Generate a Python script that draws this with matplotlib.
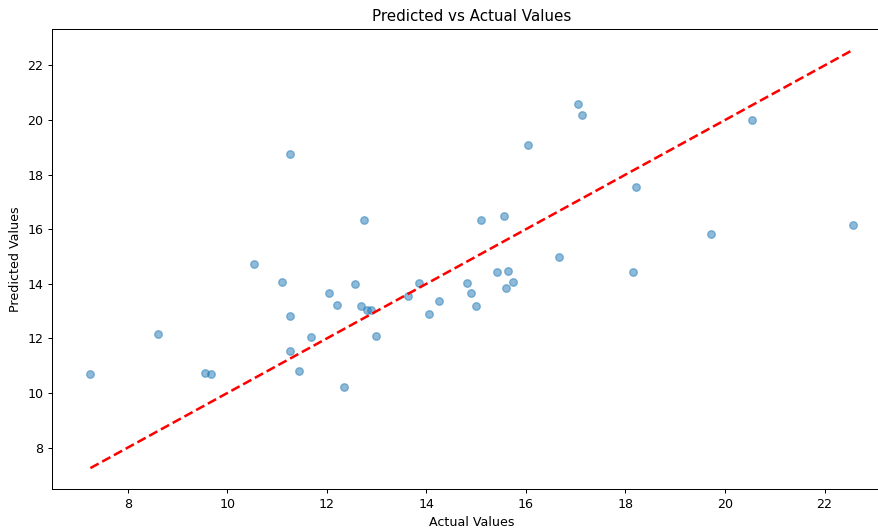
import matplotlib
matplotlib.use("Agg")
import matplotlib.pyplot as plt
import numpy as np

actual = [7.25, 8.60, 9.55, 9.68, 10.54, 11.09, 11.27, 11.27, 11.27, 11.45,
          11.68, 12.05, 12.20, 12.35, 12.56, 12.68, 12.75, 12.80, 12.88, 12.98,
          13.63, 13.86, 14.06, 14.26, 14.81, 14.90, 15.00, 15.10, 15.42, 15.56,
          15.60, 15.65, 15.74, 16.05, 16.67, 17.04, 17.13, 18.15, 18.22, 19.72,
          20.54, 22.57]
predicted = [10.71, 12.18, 10.74, 10.68, 14.71, 14.07, 18.76, 12.81, 11.53, 10.81,
             12.04, 13.67, 13.21, 10.21, 14.01, 13.18, 16.33, 13.05, 13.05, 12.08,
             13.56, 14.04, 12.88, 13.38, 14.04, 13.65, 13.18, 16.33, 14.44, 16.50,
             13.84, 14.48, 14.07, 19.09, 14.98, 20.60, 20.17, 14.44, 17.54, 15.81,
             20.02, 16.14]

W, H = 878, 529
DPI = 91
fig = plt.figure(figsize=(W / DPI, H / DPI), dpi=DPI)
ax = fig.add_axes([52.3 / W, 40 / H, (891 - 52.3) / W, 460 / H])

ax.scatter(actual, predicted, alpha=0.5)
lo, hi = min(actual), max(actual)
ax.plot([lo, hi], [lo, hi], 'r--', lw=2)
ax.set_xlabel('Actual Values')
ax.set_ylabel('Predicted Values')
ax.set_title('Predicted vs Actual Values')

fig.savefig('out.png', dpi=DPI)
